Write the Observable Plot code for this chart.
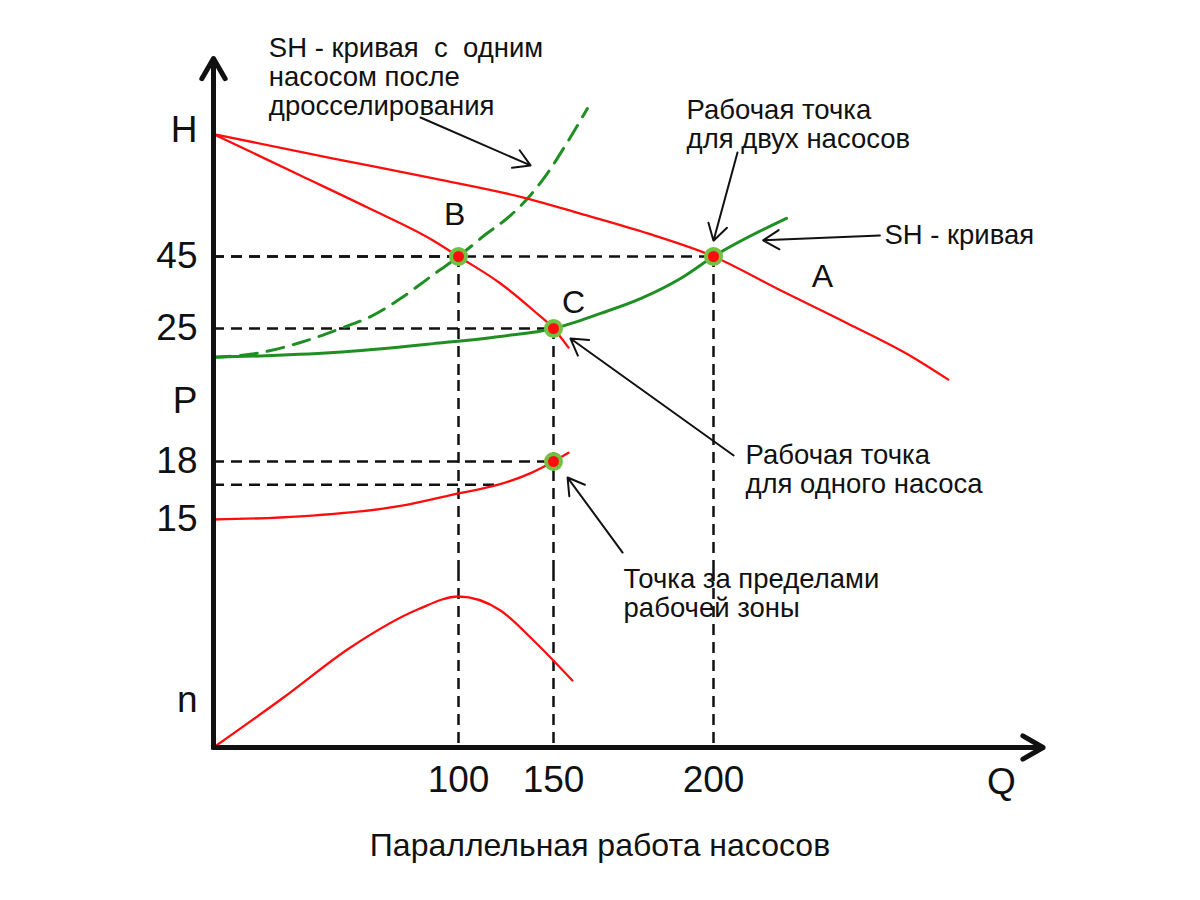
<!DOCTYPE html>
<html lang="ru">
<head>
<meta charset="utf-8">
<title>Параллельная работа насосов</title>
<script src="https://cdn.jsdelivr.net/npm/d3@7"></script>
<script src="https://cdn.jsdelivr.net/npm/@observablehq/plot@0.6"></script>
<style>
  html, body { margin: 0; background: #fff; }
  #chart { position: relative; width: 1200px; height: 900px; background: #fff;
           font-family: "Liberation Sans", Arial, Helvetica, sans-serif; }
  #bands svg { display: block; overflow: visible; }
  #caption { position: absolute; left: 0; top: 829px; width: 1200px; text-align: center;
             font-size: 32px; line-height: 32px; color: #111; }
</style>
</head>
<body>
<div id="chart">
  <div id="bands"></div>
  <div id="caption">Параллельная работа насосов</div>
</div>
<script>
// ---------- Flow rate Q (shared horizontal axis) ----------
const qTicks = [100, 150, 200];
const qTickLabels = ["100", "150", "200"];
const qAxisEnd = 303;           // end of the Q axis arrow
const qAxisName = "Q";
const qAxisNamePos = 290;

// ---------- Head H ----------
const hAxisLabels = ["H", "45", "25"];
const hAxisValues = [80, 45, 25];
const hAxisTop = 100;

// one pump
const qOnePump = [0, 35.5, 62.9, 89.8, 100, 122.1, 139.5, 150, 154.7];
const hOnePump = [79, 67.5, 58.6, 49.4, 45, 37.5, 30, 25, 19.7];
// two pumps in parallel (curve A)
const qTwoPumps = [0, 49, 89.8, 136.3, 158.4, 179.4, 200, 220.9, 241.9, 262.5, 273.4];
const hTwoPumps = [79, 72.2, 66.7, 61.1, 56.9, 51.4, 45, 35.6, 26.4, 16.9, 10.8];
// system (SH) curve
const qSystem = [0, 49, 89.8, 122.1, 150, 164.7, 177.2, 189.7, 200, 222.8];
const hSystem = [17, 18.3, 20.8, 22.8, 25, 29.2, 33.3, 38.9, 45, 55.6];
// SH curve with one pump after throttling
const qThrottled = [0, 19.2, 35.5, 51.8, 64.1, 76.3, 88.6, 100, 114.2, 127.4, 136.8, 146.8, 154.1, 160.6];
const hThrottled = [17, 18.3, 21.1, 25, 28.3, 33.3, 39.4, 45, 51.1, 56.4, 61.4, 68.1, 76.4, 86.1];

// operating points
const opQ = [100, 150, 200];
const opH = [45, 25, 45];
const opNames = ["B", "C", "A"];
const opNameQ = [98.4, 156.3, 234];
const opNameH = [56.7, 32.2, 39.4];

// ---------- Power P ----------
const pAxisLabels = ["P", "18", "15"];
const pAxisValues = [21.1, 18, 15];
const qPower = [0, 35.5, 76.3, 100, 121, 138, 150, 154.7];
const pPower = [15, 15.16, 15.7, 16.35, 16.8, 17.4, 18, 18.45];
const pGuideQ = [150, 121];
const pGuideP = [18, 16.8];
const pPointQ = [150];
const pPointP = [18];

// ---------- Efficiency n ----------
const nAxisLabels = ["n"];
const nAxisValues = [0.25];
const qEff = [0, 28.6, 55.9, 83.3, 100, 122.1, 139.5, 155.9];
const nEff = [0, 0.265, 0.53, 0.731, 0.8, 0.726, 0.567, 0.355];

// ---------- Callouts ----------
const hNotes = [
  {text: "SH - кривая\u00a0\u00a0с\u00a0\u00a0одним\nнасосом после\nдросселирования", q: 22.6, h: 106.1, anchor: "top"},
  {text: "Рабочая точка\nдля двух насосов", q: 191.6, h: 88.9, anchor: "top"},
  {text: "SH - кривая", q: 253.4, h: 50.8, anchor: "middle"}
];
const hArrows = [
  {q1: 84.5, h1: 83.6, q2: 137.9, h2: 70.3},
  {q1: 207.5, h1: 73.9, q2: 200, h2: 49.4},
  {q1: 252, h1: 50.8, q2: 215.5, h2: 49.5}
];
const pNotes = [
  {text: "Рабочая точка\nдля одного насоса", q: 210, p: 18.93},
  {text: "Точка за пределами\nрабочей зоны", q: 171.9, p: 12.52}
];
const pArrows = [
  {q1: 206.3, p1: 18.31, q2: 155.3, p2: 24.36},
  {q1: 171.6, p1: 13.29, q2: 154.4, p2: 17.17}
];

// ---------- helpers ----------
const pairs = (xs, ys, key) => xs.map((q, i) => ({q, [key]: ys[i]}));

const RED = "#ff0d0d";
const GREEN = "#1f8f24";
const RING = "#74c043";
const INK = "#111";
const DASH = "11,7";
const FONT = "'Liberation Sans', Arial, Helvetica, sans-serif";
const NOTE_SIZE = 27.5;
const TICK_SIZE = 37;
const CURVE = "monotone-x";

// schematic flow axis: piecewise-linear so the working points sit at their marks
const xScale = {type: "linear", domain: [0, 100, 150, 200], range: [213, 458, 553, 713], axis: null};

// vertical scales of the three stacked bands
const H_BAND = 380, P_BAND = 190, N_BAND = 240;
const hY = {type: "linear", domain: [25, 45], range: [328, 256], axis: null};
const pY = {type: "linear", domain: [15, 18], range: [139, 81], axis: null};
const nY = {type: "linear", domain: [0, 0.8], range: [177, 26], axis: null};
// values at the band edges, so guides and the axis run on across bands
const hFloor = d3.scaleLinear(hY.domain, hY.range).invert(H_BAND);
const nTop = d3.scaleLinear(nY.domain, nY.range).invert(0);

const base = {
  width: 1200,
  marginTop: 0, marginRight: 0, marginBottom: 0, marginLeft: 0,
  style: {background: "transparent", overflow: "visible", fontFamily: FONT, color: INK}
};

const guide = {stroke: INK, strokeWidth: 2.5, strokeDasharray: DASH};
const redLine = {stroke: RED, strokeWidth: 2.3, curve: CURVE};
const arrowStyle = {stroke: INK, strokeWidth: 2, headLength: 14, headAngle: 62};
const axisArrow = {stroke: INK, strokeWidth: 5, headLength: 7, headAngle: 60};

// ---------- H band ----------
const hPoints = opQ.map((q, i) => ({q, h: opH[i]}));
const hBand = Plot.plot({
  ...base,
  height: H_BAND,
  x: xScale,
  y: hY,
  marks: [
    Plot.ruleY(hPoints, {x1: () => 0, x2: "q", y: "h", ...guide}),
    Plot.ruleX(hPoints, {x: "q", y1: "h", y2: () => hFloor, ...guide}),
    Plot.line(pairs(qThrottled, hThrottled, "h"), {x: "q", y: "h", stroke: GREEN, strokeWidth: 3, strokeDasharray: "17,10", curve: CURVE}),
    Plot.line(pairs(qSystem, hSystem, "h"), {x: "q", y: "h", stroke: GREEN, strokeWidth: 3, curve: CURVE}),
    Plot.line(pairs(qTwoPumps, hTwoPumps, "h"), {x: "q", y: "h", ...redLine}),
    Plot.line(pairs(qOnePump, hOnePump, "h"), {x: "q", y: "h", ...redLine}),
    Plot.dot(hPoints, {x: "q", y: "h", r: 7.5, fill: RED, stroke: RING, strokeWidth: 4}),
    // vertical axis with arrow
    Plot.ruleX([0], {x: d => d, y1: () => hAxisTop, y2: () => hFloor, stroke: INK, strokeWidth: 5}),
    Plot.arrow([0], {x1: d => d, x2: d => d, y1: () => 75, y2: () => hAxisTop, ...axisArrow}),
    Plot.text(hAxisLabels, {x: () => 0, y: (d, i) => hAxisValues[i], text: d => d, textAnchor: "end", dx: -16, fontSize: TICK_SIZE, fill: INK}),
    Plot.text(opNames, {x: (d, i) => opNameQ[i], y: (d, i) => opNameH[i], text: d => d, fontSize: 32, fill: INK}),
    Plot.arrow(hArrows, {x1: "q1", y1: "h1", x2: "q2", y2: "h2", ...arrowStyle}),
    Plot.text(hNotes.filter(d => d.anchor === "top"), {x: "q", y: "h", text: "text", textAnchor: "start", lineAnchor: "top", lineHeight: 1.05, fontSize: NOTE_SIZE, fill: INK}),
    Plot.text(hNotes.filter(d => d.anchor === "middle"), {x: "q", y: "h", text: "text", textAnchor: "start", lineAnchor: "middle", fontSize: NOTE_SIZE, fill: INK})
  ]
});

// ---------- P band ----------
const pBand = Plot.plot({
  ...base,
  height: P_BAND,
  x: xScale,
  y: pY,
  marks: [
    Plot.ruleX(opQ, {x: d => d, ...guide}),
    Plot.ruleY(pGuideP, {y: d => d, x1: () => 0, x2: (d, i) => pGuideQ[i], ...guide}),
    Plot.line(pairs(qPower, pPower, "p"), {x: "q", y: "p", ...redLine}),
    Plot.dot(pPointQ, {x: d => d, y: (d, i) => pPointP[i], r: 7.5, fill: RED, stroke: RING, strokeWidth: 4}),
    Plot.ruleX([0], {x: d => d, stroke: INK, strokeWidth: 5}),
    Plot.text(pAxisLabels, {x: () => 0, y: (d, i) => pAxisValues[i], text: d => d, textAnchor: "end", dx: -16, fontSize: TICK_SIZE, fill: INK}),
    Plot.arrow(pArrows, {x1: "q1", y1: "p1", x2: "q2", y2: "p2", ...arrowStyle}),
    Plot.text(pNotes, {x: "q", y: "p", text: "text", textAnchor: "start", lineAnchor: "top", lineHeight: 1.05, fontSize: NOTE_SIZE, fill: INK})
  ]
});

// ---------- n band (with the Q axis) ----------
const nBand = Plot.plot({
  ...base,
  height: N_BAND,
  x: xScale,
  y: nY,
  marks: [
    Plot.ruleX(opQ, {x: d => d, y1: () => nTop, y2: () => 0, ...guide}),
    Plot.line(pairs(qEff, nEff, "n"), {x: "q", y: "n", ...redLine}),
    Plot.ruleX([0], {x: d => d, y1: () => nTop, y2: () => 0, stroke: INK, strokeWidth: 5, strokeLinecap: "square"}),
    Plot.arrow([0], {x1: d => d, x2: () => qAxisEnd, y1: () => 0, y2: () => 0, ...axisArrow}),
    Plot.text(nAxisLabels, {x: () => 0, y: (d, i) => nAxisValues[i], text: d => d, textAnchor: "end", dx: -16, fontSize: TICK_SIZE, fill: INK}),
    Plot.text(qTickLabels, {x: (d, i) => qTicks[i], y: () => 0, text: d => d, lineAnchor: "top", dy: 18, fontSize: TICK_SIZE, fill: INK}),
    Plot.text([qAxisName], {x: () => qAxisNamePos, y: () => 0, text: d => d, lineAnchor: "top", dy: 20, fontSize: TICK_SIZE, fill: INK})
  ]
});

document.getElementById("bands").append(hBand, pBand, nBand);
</script>
</body>
</html>
